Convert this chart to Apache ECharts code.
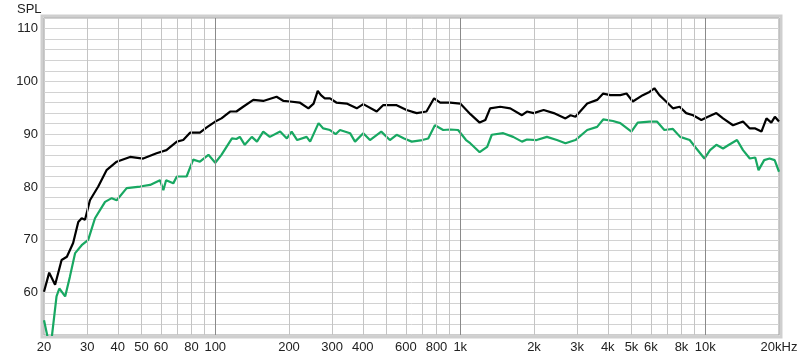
<!DOCTYPE html>
<html><head><meta charset="utf-8">
<script src="https://cdn.jsdelivr.net/npm/echarts@6/dist/echarts.min.js"></script>
<style>html,body{margin:0;padding:0;background:#fff}#c{width:800px;height:359px}</style>
</head><body><div id="c"></div>
<script>
const freqBlack = [20,21,22.2,23.6,24.8,26.3,27.6,28.5,29.4,30.8,33.3,36,39.6,44.9,50.8,57.6,63.2,69.7,74,78.9,86.6,92.3,100,106,115,122,130,143,157,178,190,202,221,240,252,262,270,280,294,312,344,378,402,456,484,550,604,664,728,782,828,910,1000,1100,1200,1266,1324,1456,1600,1786,1872,1994,2190,2408,2688,2820,2952,3298,3620,3832,4100,4500,4772,5060,5560,5920,6200,6500,6920,7380,7860,8360,8920,9640,10260,11100,11820,12980,14260,15200,16000,16960,17780,18600,19240,20000];
const splBlack = [60.2,63.8,61.5,66.2,66.8,69.4,73.4,74.1,73.8,77.5,80.1,83.2,84.8,85.7,85.4,86.4,87.0,88.6,88.9,90.3,90.3,91.3,92.4,93.0,94.3,94.3,95.2,96.5,96.3,97.1,96.3,96.2,96.0,94.9,95.8,98.2,97.4,96.8,96.8,96.0,95.8,94.9,95.7,94.3,95.5,95.5,94.6,94.0,94.3,96.8,96.0,96.0,95.8,93.8,92.2,92.7,94.9,95.2,94.9,93.6,94.3,94.0,94.6,94.0,93.0,93.6,93.3,95.8,96.5,97.7,97.4,97.4,97.7,96.2,97.4,98.0,98.7,97.4,96.2,94.9,95.2,94.0,93.6,92.7,93.3,94.0,93.0,91.7,92.4,91.1,91.1,90.5,93.0,92.2,93.3,92.4];
const freqGreen = [20,20.6,21.2,22.5,23.1,24.4,25.5,26.8,28.5,30.3,32.3,35.5,37.8,39.6,43.5,49.3,54.2,59.5,61.4,63,67.4,69.7,76.4,81.3,86.6,93.8,100,106,117,122,126,132,141,148,157,167,184,196,205,216,236,244,264,276,294,310,323,355,372,402,428,476,516,550,590,634,700,740,788,852,910,980,1056,1098,1200,1288,1345,1498,1644,1786,1872,2050,2258,2480,2688,2952,3298,3620,3832,4200,4500,4996,5300,5920,6350,6810,7380,7900,8640,9200,9920,10460,11100,11820,12500,13480,14260,15200,16000,16500,17400,18300,19200,20000];
const splGreen = [54.8,52.0,49.0,59.3,60.8,59.3,63.0,67.5,69.0,70.0,74.1,77.2,77.9,77.5,79.8,80.1,80.4,81.3,79.4,81.3,80.7,82.0,82.0,85.2,84.8,86.1,84.6,86.1,89.2,89.1,89.5,88.0,89.5,88.6,90.5,89.5,90.5,89.2,90.5,88.9,89.5,88.6,92.1,91.1,90.8,90.0,90.8,90.2,88.6,90.2,88.9,90.5,88.9,89.9,89.2,88.6,88.9,89.2,91.7,90.8,90.9,90.8,88.9,88.3,86.6,87.6,89.9,90.2,89.5,88.6,89.0,88.9,89.5,88.9,88.3,88.9,90.8,91.4,92.8,92.5,92.1,90.5,92.2,92.4,92.4,90.8,91.0,89.5,88.9,87.3,85.4,87.0,88.0,87.3,88.0,88.9,87.0,85.4,85.6,83.2,85.1,85.4,85.1,82.9];
const gridFreqs = [30,40,50,60,70,80,90,100,200,300,400,500,600,700,800,900,1000,2000,3000,4000,5000,6000,7000,8000,9000,10000];
const majorFreqs = [100,1000,10000];
const tickFreqs = [20,30,40,50,60,80,100,200,300,400,600,800,1000,2000,3000,4000,5000,6000,8000,10000,20000];
const tickLabels = ['20','30','40','50','60','80','100','200','300','400','600','800','1k','2k','3k','4k','5k','6k','8k','10k','20kHz'];
const yLabels = [60,70,80,90,100,110];

const font = 'Liberation Sans, Arial, sans-serif';
const chart = echarts.init(document.getElementById('c'), null, {renderer:'canvas'});
const gridLines = gridFreqs.map(f => ({
  xAxis: f,
  lineStyle: {color: majorFreqs.includes(f) ? '#8a8a8a' : '#c4c4c4', width: 1, type: 'solid'},
  label: {show: false}
}));
const tickMarks = tickFreqs.map((f, i) => ({
  xAxis: f,
  lineStyle: {color: 'rgba(255,255,255,0)', width: 0},
  label: {show: true, position: 'start', formatter: tickLabels[i], distance: 6, color: '#222', fontSize: 13, fontFamily: font}
}));
chart.setOption({
  animation: false,
  grid: {left: 44, right: 21, top: 18, bottom: 24, show: true, borderColor: '#9a9a9a', borderWidth: 1, backgroundColor: '#fff'},
  graphic: [
    {type: 'rect', shape: {x: 42, y: 16, width: 739, height: 321}, style: {fill: 'none', stroke: '#cfcfcf', lineWidth: 3}, z: -1},
    {type: 'text', left: 17, top: 3, style: {text: 'SPL', fill: '#222', font: '13px ' + font}}
  ],
  xAxis: {
    type: 'log', logBase: 10, min: 20, max: 20000,
    axisLine: {show: false}, axisTick: {show: false}, axisLabel: {show: false}, splitLine: {show: false}
  },
  yAxis: {
    type: 'value', min: 52, max: 112, interval: 2,
    axisLine: {show: false}, axisTick: {show: false},
    axisLabel: {formatter: v => yLabels.includes(v) ? String(v) : '', color: '#222', fontSize: 13, fontFamily: font, margin: 6},
    splitLine: {show: true, lineStyle: {color: '#d2d2d2', width: 1}}
  },
  series: [
    {type: 'line', data: [], z: 1, silent: true,
     markLine: {silent: true, symbol: ['none','none'], animation: false, data: gridLines}},
    {type: 'line', data: [], z: 1, silent: true,
     markLine: {silent: true, symbol: ['none','none'], animation: false, data: tickMarks}},
    {type: 'line', name: 'green', data: freqGreen.map((f,i)=>[f, splGreen[i]]), showSymbol: false, z: 3,
     lineStyle: {color: '#18a862', width: 2.2}, clip: true},
    {type: 'line', name: 'black', data: freqBlack.map((f,i)=>[f, splBlack[i]]), showSymbol: false, z: 4,
     lineStyle: {color: '#000', width: 2.2}, clip: true}
  ]
});
</script></body></html>
